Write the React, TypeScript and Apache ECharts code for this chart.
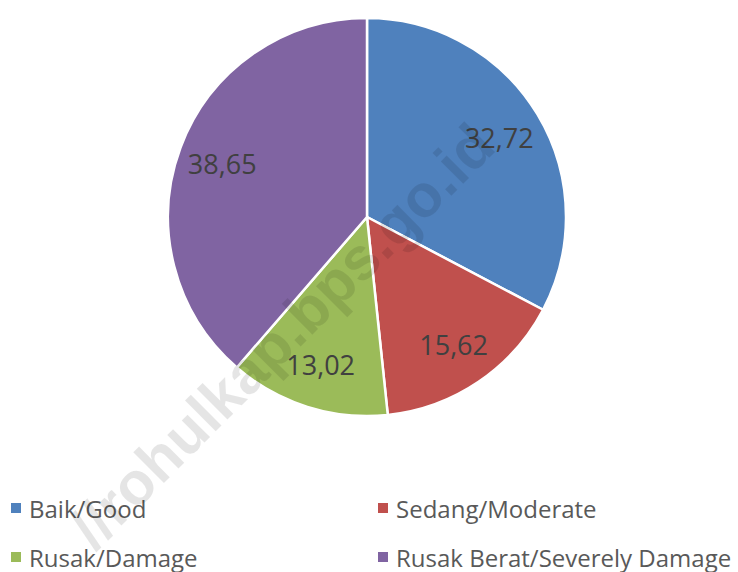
import React, { useEffect, useRef } from "react";
import * as echarts from "echarts";

const categories = ["Baik/Good", "Sedang/Moderate", "Rusak/Damage", "Rusak Berat/Severely Damage"];
const values = [32.72, 15.62, 13.02, 38.65];
const colors = ["#4F81BD", "#C0504D", "#9BBB59", "#8064A2"];
const watermark = "//rohulkap.bps.go.id";

const legendPos = [
  { left: 9, top: 493 },
  { left: 376, top: 493 },
  { left: 9, top: 542 },
  { left: 376, top: 542 },
];

export default function App() {
  const ref = useRef<HTMLDivElement>(null);
  useEffect(() => {
    if (!ref.current) return;
    const chart = echarts.init(ref.current, undefined, { renderer: "svg" });
    const data = categories.map((name, i) => ({ name, value: values[i], itemStyle: { color: colors[i] } }));
    chart.setOption({
      animation: false,
      backgroundColor: "#ffffff",
      legend: categories.map((name, i) => ({
        data: [name],
        left: legendPos[i].left,
        top: legendPos[i].top,
        icon: "rect",
        itemWidth: 12,
        itemHeight: 12,
        padding: 0,
        selectedMode: false,
        textStyle: {
          fontFamily: "Open Sans",
          fontSize: 24,
          color: "#595959",
          lineHeight: 30,
          padding: [0, 0, 0, 2],
        },
      })),
      series: [
        {
          type: "pie",
          center: [367, 217],
          radius: [0, 199],
          startAngle: 90,
          clockwise: true,
          label: { show: false },
          labelLine: { show: false },
          itemStyle: { borderColor: "#ffffff", borderWidth: 2.5 },
          emphasis: { disabled: true },
          data,
        },
        {
          type: "pie",
          center: [367, 217],
          radius: [104, 199],
          startAngle: 90,
          clockwise: true,
          silent: true,
          legendHoverLink: false,
          itemStyle: { color: "rgba(0,0,0,0)", borderWidth: 0 },
          label: {
            show: true,
            position: "inside",
            fontFamily: "Open Sans",
            fontSize: 27,
            color: "#404040",
            formatter: (p: any) => Number(p.value).toFixed(2).replace(".", ","),
          },
          labelLine: { show: false },
          emphasis: { disabled: true },
          data: categories.map((name, i) => ({ name, value: values[i], itemStyle: { color: "rgba(0,0,0,0)" } })),
        },
      ],
      graphic: [
        {
          type: "text",
          x: 282,
          y: 336,
          rotation: Math.PI / 4,
          silent: true,
          z: 100,
          style: {
            text: watermark,
            fontFamily: "Liberation Sans",
            fontWeight: "bold",
            fontSize: 60,
            fill: "rgba(0,0,0,0.1)",
            align: "center",
            verticalAlign: "middle",
          },
        },
      ],
    });
    return () => chart.dispose();
  }, []);
  return (
    <div
      ref={ref}
      style={{ position: "fixed", left: 0, top: 0, width: 738, height: 572 }}
    />
  );
}
